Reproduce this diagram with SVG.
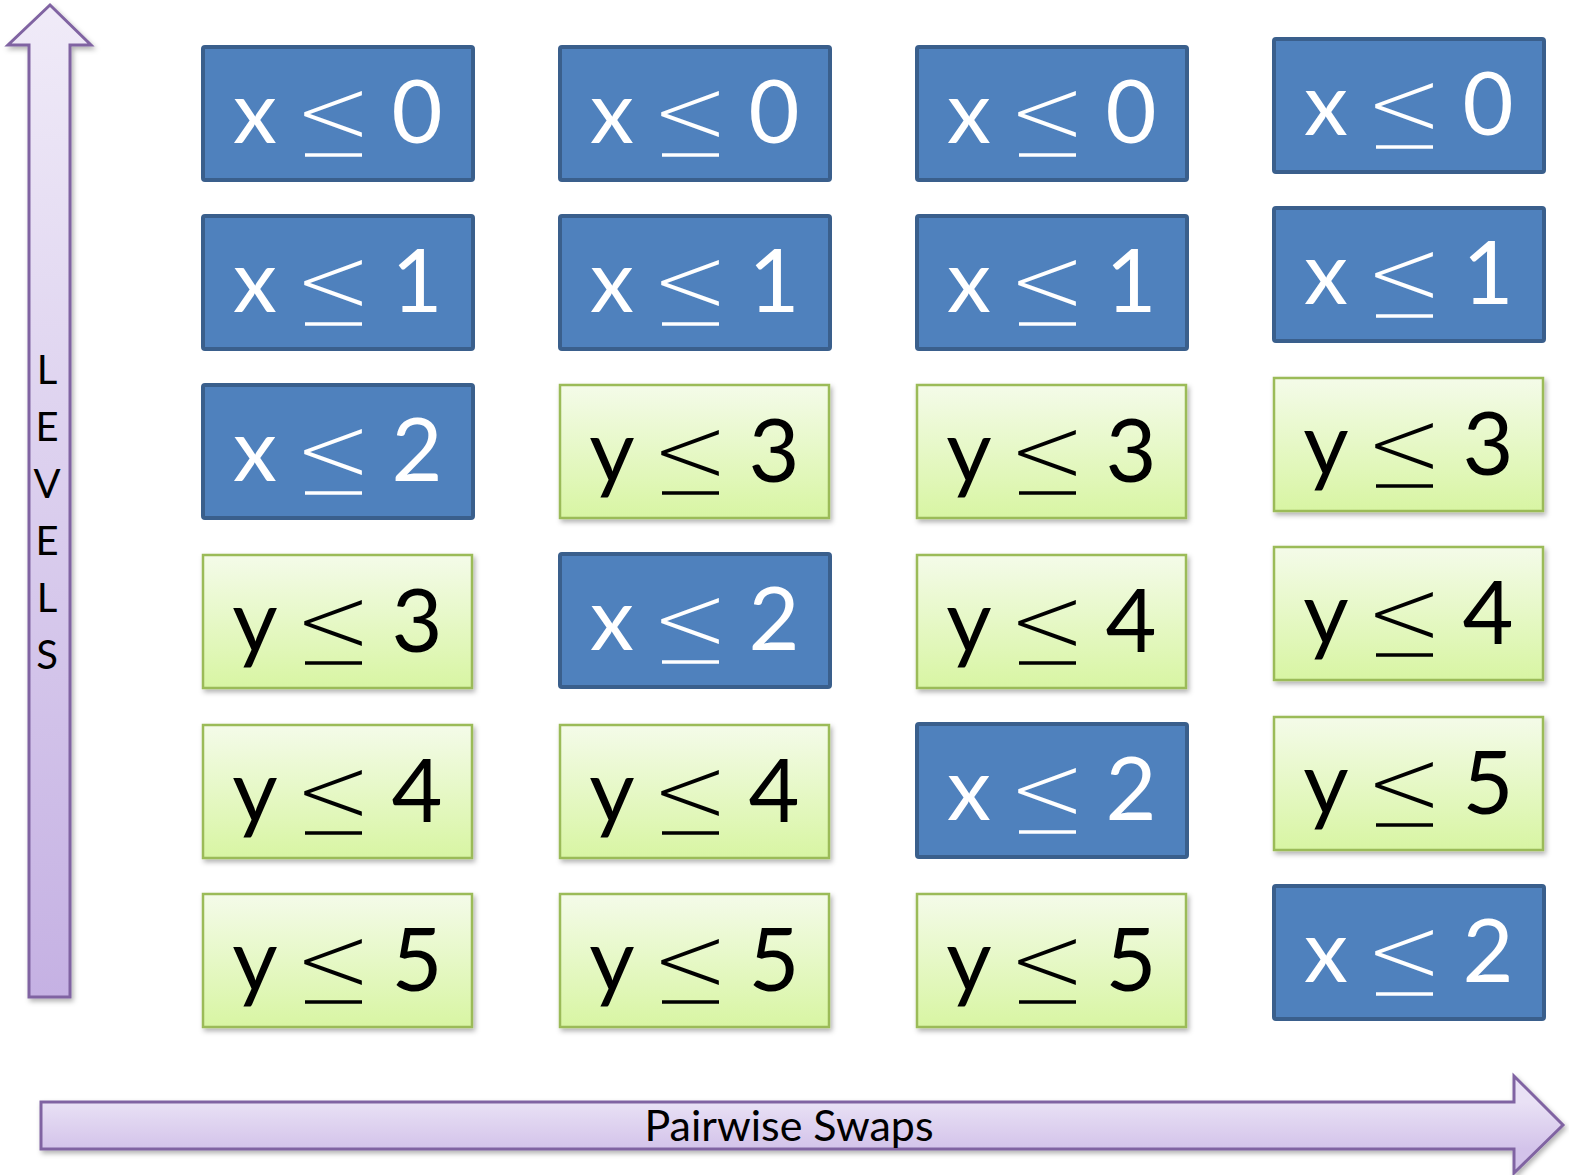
<svg xmlns="http://www.w3.org/2000/svg" width="1569" height="1175" viewBox="0 0 1569 1175">
<defs>
<linearGradient id="gGreen" x1="0" y1="0" x2="0" y2="1">
<stop offset="0" stop-color="#F4FBE9"/><stop offset="1" stop-color="#D8F5A3"/>
</linearGradient>
<linearGradient id="gUp" x1="0" y1="0" x2="0" y2="1">
<stop offset="0" stop-color="#F0EBF8"/><stop offset="1" stop-color="#C5B1E3"/>
</linearGradient>
<linearGradient id="gRight" gradientUnits="userSpaceOnUse" x1="0" y1="1102" x2="0" y2="1149">
<stop offset="0" stop-color="#E9E1F5"/><stop offset="1" stop-color="#D3C3EA"/>
</linearGradient>
<filter id="sh" x="-10%" y="-10%" width="130%" height="130%">
<feDropShadow dx="2" dy="3" stdDeviation="2.5" flood-color="#000" flood-opacity="0.3"/>
</filter>
<style>
.blue{fill:#4F81BD;stroke:#3A5F8C;stroke-width:4}
.green{fill:url(#gGreen);stroke:#9BBB59;stroke-width:2.5;filter:url(#sh)}
.t{font-family:Lato,"Open Sans","Liberation Sans",sans-serif;font-size:88px;text-anchor:middle}
.lt{font-family:"DejaVu Sans","Liberation Sans",sans-serif;font-weight:200;font-size:92px}
.w{fill:#FFFFFF}
.k{fill:#000000}
.ulw{stroke:#FFFFFF;stroke-width:3.5}
.ulk{stroke:#000000;stroke-width:3.5}
.arrow{stroke:#8064A2;stroke-width:3;filter:url(#sh)}
.lbl{font-family:Lato,"Open Sans","Liberation Sans",sans-serif;fill:#000;text-anchor:middle}
</style>
</defs>

<g id="levels-arrow">
<path class="arrow" fill="url(#gUp)" d="M50,5 L91,45 L70,45 L70,997 L29,997 L29,45 L8,45 Z"/>
<text class="lbl" font-size="40" x="47" y="384"><tspan x="47" y="384">L</tspan><tspan x="47" y="441">E</tspan><tspan x="47" y="498">V</tspan><tspan x="47" y="555">E</tspan><tspan x="47" y="612">L</tspan><tspan x="47" y="669">S</tspan></text>
</g>

<g id="swaps-arrow">
<path class="arrow" fill="url(#gRight)" d="M41,1102 L1514,1102 L1514,1076 L1563,1125 L1514,1173 L1514,1149 L41,1149 Z"/>
<text class="lbl" font-size="43" x="789" y="1141">Pairwise Swaps</text>
</g>

<!-- Column 1 -->
<g id="c1r1"><rect class="blue" x="203" y="47" width="270" height="133" rx="2"/><text class="t w" y="143"><tspan x="255">x</tspan><tspan x="333" class="lt">&lt;</tspan><tspan x="417">0</tspan></text><line class="ulw" x1="305" y1="155" x2="362" y2="155"/></g>
<g id="c1r2"><rect class="blue" x="203" y="216" width="270" height="133" rx="2"/><text class="t w" y="312"><tspan x="255">x</tspan><tspan x="333" class="lt">&lt;</tspan><tspan x="417">1</tspan></text><line class="ulw" x1="305" y1="324" x2="362" y2="324"/></g>
<g id="c1r3"><rect class="blue" x="203" y="385" width="270" height="133" rx="2"/><text class="t w" y="481"><tspan x="255">x</tspan><tspan x="333" class="lt">&lt;</tspan><tspan x="417">2</tspan></text><line class="ulw" x1="305" y1="493" x2="362" y2="493"/></g>
<g id="c1r4"><rect class="green" x="203" y="555" width="269" height="133"/><text class="t k" y="652"><tspan x="255">y</tspan><tspan x="333" class="lt">&lt;</tspan><tspan x="417">3</tspan></text><line class="ulk" x1="305" y1="663" x2="362" y2="663"/></g>
<g id="c1r5"><rect class="green" x="203" y="725" width="269" height="133"/><text class="t k" y="822"><tspan x="255">y</tspan><tspan x="333" class="lt">&lt;</tspan><tspan x="417">4</tspan></text><line class="ulk" x1="305" y1="833" x2="362" y2="833"/></g>
<g id="c1r6"><rect class="green" x="203" y="894" width="269" height="133"/><text class="t k" y="991"><tspan x="255">y</tspan><tspan x="333" class="lt">&lt;</tspan><tspan x="417">5</tspan></text><line class="ulk" x1="305" y1="1002" x2="362" y2="1002"/></g>

<!-- Column 2 -->
<g id="c2r1"><rect class="blue" x="560" y="47" width="270" height="133" rx="2"/><text class="t w" y="143"><tspan x="612">x</tspan><tspan x="690" class="lt">&lt;</tspan><tspan x="774">0</tspan></text><line class="ulw" x1="662" y1="155" x2="719" y2="155"/></g>
<g id="c2r2"><rect class="blue" x="560" y="216" width="270" height="133" rx="2"/><text class="t w" y="312"><tspan x="612">x</tspan><tspan x="690" class="lt">&lt;</tspan><tspan x="774">1</tspan></text><line class="ulw" x1="662" y1="324" x2="719" y2="324"/></g>
<g id="c2r3"><rect class="green" x="560" y="385" width="269" height="133"/><text class="t k" y="482"><tspan x="612">y</tspan><tspan x="690" class="lt">&lt;</tspan><tspan x="774">3</tspan></text><line class="ulk" x1="662" y1="493" x2="719" y2="493"/></g>
<g id="c2r4"><rect class="blue" x="560" y="554" width="270" height="133" rx="2"/><text class="t w" y="650"><tspan x="612">x</tspan><tspan x="690" class="lt">&lt;</tspan><tspan x="774">2</tspan></text><line class="ulw" x1="662" y1="662" x2="719" y2="662"/></g>
<g id="c2r5"><rect class="green" x="560" y="725" width="269" height="133"/><text class="t k" y="822"><tspan x="612">y</tspan><tspan x="690" class="lt">&lt;</tspan><tspan x="774">4</tspan></text><line class="ulk" x1="662" y1="833" x2="719" y2="833"/></g>
<g id="c2r6"><rect class="green" x="560" y="894" width="269" height="133"/><text class="t k" y="991"><tspan x="612">y</tspan><tspan x="690" class="lt">&lt;</tspan><tspan x="774">5</tspan></text><line class="ulk" x1="662" y1="1002" x2="719" y2="1002"/></g>

<!-- Column 3 -->
<g id="c3r1"><rect class="blue" x="917" y="47" width="270" height="133" rx="2"/><text class="t w" y="143"><tspan x="969">x</tspan><tspan x="1047" class="lt">&lt;</tspan><tspan x="1131">0</tspan></text><line class="ulw" x1="1019" y1="155" x2="1076" y2="155"/></g>
<g id="c3r2"><rect class="blue" x="917" y="216" width="270" height="133" rx="2"/><text class="t w" y="312"><tspan x="969">x</tspan><tspan x="1047" class="lt">&lt;</tspan><tspan x="1131">1</tspan></text><line class="ulw" x1="1019" y1="324" x2="1076" y2="324"/></g>
<g id="c3r3"><rect class="green" x="917" y="385" width="269" height="133"/><text class="t k" y="482"><tspan x="969">y</tspan><tspan x="1047" class="lt">&lt;</tspan><tspan x="1131">3</tspan></text><line class="ulk" x1="1019" y1="493" x2="1076" y2="493"/></g>
<g id="c3r4"><rect class="green" x="917" y="555" width="269" height="133"/><text class="t k" y="652"><tspan x="969">y</tspan><tspan x="1047" class="lt">&lt;</tspan><tspan x="1131">4</tspan></text><line class="ulk" x1="1019" y1="663" x2="1076" y2="663"/></g>
<g id="c3r5"><rect class="blue" x="917" y="724" width="270" height="133" rx="2"/><text class="t w" y="820"><tspan x="969">x</tspan><tspan x="1047" class="lt">&lt;</tspan><tspan x="1131">2</tspan></text><line class="ulw" x1="1019" y1="832" x2="1076" y2="832"/></g>
<g id="c3r6"><rect class="green" x="917" y="894" width="269" height="133"/><text class="t k" y="991"><tspan x="969">y</tspan><tspan x="1047" class="lt">&lt;</tspan><tspan x="1131">5</tspan></text><line class="ulk" x1="1019" y1="1002" x2="1076" y2="1002"/></g>

<!-- Column 4 -->
<g id="c4r1"><rect class="blue" x="1274" y="39" width="270" height="133" rx="2"/><text class="t w" y="135"><tspan x="1326">x</tspan><tspan x="1404" class="lt">&lt;</tspan><tspan x="1488">0</tspan></text><line class="ulw" x1="1376" y1="147" x2="1433" y2="147"/></g>
<g id="c4r2"><rect class="blue" x="1274" y="208" width="270" height="133" rx="2"/><text class="t w" y="304"><tspan x="1326">x</tspan><tspan x="1404" class="lt">&lt;</tspan><tspan x="1488">1</tspan></text><line class="ulw" x1="1376" y1="316" x2="1433" y2="316"/></g>
<g id="c4r3"><rect class="green" x="1274" y="378" width="269" height="133"/><text class="t k" y="475"><tspan x="1326">y</tspan><tspan x="1404" class="lt">&lt;</tspan><tspan x="1488">3</tspan></text><line class="ulk" x1="1376" y1="486" x2="1433" y2="486"/></g>
<g id="c4r4"><rect class="green" x="1274" y="547" width="269" height="133"/><text class="t k" y="644"><tspan x="1326">y</tspan><tspan x="1404" class="lt">&lt;</tspan><tspan x="1488">4</tspan></text><line class="ulk" x1="1376" y1="655" x2="1433" y2="655"/></g>
<g id="c4r5"><rect class="green" x="1274" y="717" width="269" height="133"/><text class="t k" y="814"><tspan x="1326">y</tspan><tspan x="1404" class="lt">&lt;</tspan><tspan x="1488">5</tspan></text><line class="ulk" x1="1376" y1="825" x2="1433" y2="825"/></g>
<g id="c4r6"><rect class="blue" x="1274" y="886" width="270" height="133" rx="2"/><text class="t w" y="982"><tspan x="1326">x</tspan><tspan x="1404" class="lt">&lt;</tspan><tspan x="1488">2</tspan></text><line class="ulw" x1="1376" y1="994" x2="1433" y2="994"/></g>

<g id="connectors"></g>
</svg>
